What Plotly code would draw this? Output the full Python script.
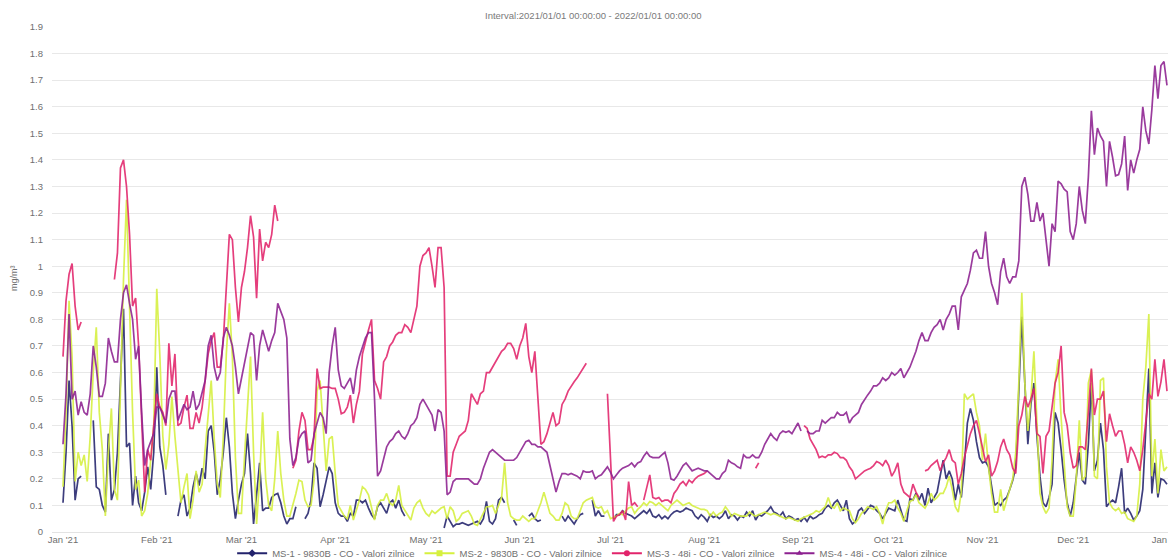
import pandas as pd
import plotly.graph_objects as go

N = None

# Daily CO values (mg/m3), 2021-01-01 .. 2022-01-01, one list per station
dates = pd.date_range("2021-01-01", periods=366, freq="D")

ms1_values = (
    [0.11, 0.30, 0.57, 0.40, 0.12, 0.20, 0.21, N, N, N,
     0.42, 0.17, 0.16, 0.10, 0.075, 0.37, 0.12, 0.16, 0.30, 0.55,
     0.84, 0.32, 0.335, 0.10, 0.21, 0.11, 0.08, 0.15, 0.245, 0.16,
     0.30]
    + [0.62, 0.32, 0.25, 0.14, N, N, N, 0.06, 0.12, 0.14,
       0.06, 0.09, 0.17, 0.22, 0.175, 0.24, 0.20, 0.38, 0.40, 0.30,
       0.14, 0.20, 0.30, 0.43, 0.32, 0.145, 0.05, 0.12]
    + [0.18, 0.22, 0.37, 0.22, 0.03, 0.14, 0.26, 0.08, 0.09, 0.09,
       0.13, 0.14, 0.145, 0.11, 0.06, 0.03, 0.05, 0.05, 0.095, N,
       N, 0.05, 0.07, 0.12, 0.26, 0.24, 0.095, 0.14, 0.20, 0.245,
       0.22]
    + [0.11, 0.07, 0.06, 0.06, 0.04, 0.07, 0.06, 0.12, 0.12, 0.11,
       0.12, 0.09, 0.065, 0.05, 0.095, 0.11, 0.09, 0.07, 0.11, 0.12,
       0.09, 0.12, 0.08, 0.06, N, N, N, N, N, N]
    + [N, N, N, N, N, N, 0.015, 0.06, 0.04, 0.02,
       0.03, 0.03, 0.035, 0.03, 0.025, 0.03, 0.035, 0.04, 0.03, 0.05,
       0.115, 0.04, 0.03, 0.05, 0.12, 0.13, 0.11, N, N, 0.045,
       0.025]
    + [N, N, N, 0.06, 0.07, 0.05, 0.04, 0.045, N, N,
       N, N, N, N, 0.06, 0.04, 0.06, 0.045, 0.03, 0.05,
       0.065, 0.07, N, N, 0.12, 0.06, 0.08, 0.06, 0.06, N]
    + [N, 0.05, 0.065, 0.065, 0.08, 0.07, 0.065, 0.06, 0.05, 0.06,
       0.07, 0.08, 0.07, 0.085, 0.06, 0.055, 0.065, 0.05, 0.06, 0.05,
       0.065, 0.075, 0.08, 0.075, 0.08, 0.09, 0.085, 0.08, 0.06, 0.05,
       0.065]
    + [0.055, 0.04, 0.065, 0.055, 0.06, 0.05, 0.06, 0.08, 0.05, 0.065,
       0.06, 0.045, 0.06, 0.055, 0.075, 0.06, 0.08, 0.045, 0.065, 0.06,
       0.07, 0.08, 0.095, 0.075, 0.07, 0.06, 0.075, 0.05, 0.06, 0.055,
       0.045]
    + [0.05, 0.04, 0.055, 0.04, 0.06, 0.05, 0.055, 0.065, 0.07, 0.09,
       0.10, 0.09, 0.11, 0.12, 0.10, 0.08, 0.12, 0.05, 0.03, 0.04,
       0.08, 0.09, 0.07, 0.085, 0.10, 0.095, 0.08, 0.07, 0.05, 0.07]
    + [0.09, 0.085, 0.08, 0.12, 0.08, 0.045, 0.04, 0.125, 0.12, 0.145,
       0.12, 0.145, 0.10, 0.165, 0.11, 0.13, 0.15, 0.21, 0.27, 0.20,
       0.23, 0.20, 0.12, 0.18, 0.13, 0.25, 0.41, 0.465, 0.42, 0.34,
       0.28]
    + [0.26, 0.265, 0.245, 0.18, 0.10, 0.11, 0.10, 0.12, 0.13, 0.16,
       0.195, 0.245, 0.50, 0.81, 0.56, 0.33, 0.48, 0.56, 0.36, 0.21,
       0.11, 0.095, 0.13, 0.18, 0.45, 0.41, 0.31, 0.195, 0.11, 0.06]
    + [0.11, 0.20, 0.30, 0.195, 0.18, 0.33, 0.56, 0.23, 0.27, 0.41,
       0.31, 0.095, 0.11, 0.12, 0.11, 0.17, 0.24, 0.07, 0.09, 0.07,
       0.045, 0.06, 0.08, 0.16, 0.37, 0.615, 0.145, 0.26, 0.13, 0.20,
       0.195]
    + [0.18]
)

ms2_values = (
    [0.17, 0.45, 0.87, 0.66, 0.19, 0.30, 0.25, 0.29, 0.19, 0.36,
     0.60, 0.77, 0.45, 0.31, 0.06, 0.30, 0.465, 0.16, 0.12, 0.55,
     0.95, 1.25, 0.85, 0.45, 0.16, 0.195, 0.06, 0.08, 0.145, 0.26,
     0.40]
    + [0.915, 0.67, 0.36, 0.235, 0.33, 0.51, 0.36, 0.22, 0.11, 0.17,
       0.22, 0.05, 0.12, 0.23, 0.15, 0.18, 0.31, 0.44, 0.57, 0.35,
       0.18, 0.13, 0.36, 0.67, 0.86, 0.66, 0.28, 0.07]
    + [0.07, 0.28, 0.48, 0.66, 0.30, 0.03, 0.20, 0.45, 0.20, 0.10,
       0.08, 0.20, 0.38, 0.22, 0.12, 0.06, 0.06, 0.10, 0.145, 0.195,
       0.19, 0.12, 0.095, 0.10, 0.195, 0.53, 0.57, 0.40, 0.23, 0.35,
       0.36]
    + [0.22, 0.10, 0.08, 0.06, 0.05, 0.10, 0.045, 0.08, 0.12, 0.17,
       0.16, 0.14, 0.095, 0.045, 0.10, 0.12, 0.12, 0.145, 0.11, 0.10,
       0.12, 0.175, 0.10, 0.08, 0.06, 0.045, 0.09, 0.11, 0.12, 0.09]
    + [0.07, 0.06, 0.08, 0.07, 0.08, 0.09, 0.095, 0.05, 0.095, 0.08,
       0.04, 0.05, 0.07, 0.075, 0.08, 0.06, 0.03, 0.025, 0.05, 0.07,
       0.095, 0.095, 0.10, 0.07, 0.10, 0.13, 0.26, 0.11, 0.06, 0.05,
       0.045]
    + [0.045, 0.06, 0.05, 0.04, 0.05, 0.05, 0.08, 0.11, 0.15, 0.11,
       0.07, 0.06, 0.045, 0.045, 0.07, 0.11, 0.10, 0.06, 0.05, 0.05,
       0.08, 0.11, 0.12, 0.125, 0.13, 0.095, 0.09, 0.095, 0.07, 0.08]
    + [0.05, 0.055, 0.06, 0.07, 0.065, 0.08, 0.09, 0.095, 0.07, 0.085,
       0.095, 0.11, 0.10, 0.115, 0.11, 0.10, 0.11, 0.10, 0.09, 0.08,
       0.10, 0.11, 0.12, 0.11, 0.10, 0.105, 0.11, 0.10, 0.095, 0.09,
       0.085]
    + [0.085, 0.08, 0.06, 0.075, 0.06, 0.07, 0.075, 0.095, 0.08, 0.06,
       0.07, 0.065, 0.06, 0.06, 0.06, 0.075, 0.065, 0.06, 0.065, 0.07,
       0.075, 0.07, 0.065, 0.07, 0.065, 0.06, 0.055, 0.05, 0.055, 0.05,
       0.045]
    + [0.04, 0.05, 0.055, 0.06, 0.065, 0.07, 0.08, 0.075, 0.085, 0.095,
       0.13, 0.095, 0.09, 0.11, 0.08, 0.09, 0.085, 0.08, 0.05, 0.035,
       0.05, 0.07, 0.08, 0.095, 0.09, 0.085, 0.095, 0.07, 0.03, 0.08]
    + [0.11, 0.11, 0.12, 0.09, 0.07, 0.04, 0.08, 0.115, 0.12, 0.14,
       0.11, 0.10, 0.09, 0.11, 0.145, 0.12, 0.13, 0.145, 0.145, 0.17,
       0.21, 0.16, 0.095, 0.075, 0.15, 0.52, 0.50, 0.51, 0.52, 0.45,
       0.40]
    + [0.27, 0.37, 0.245, 0.145, 0.075, 0.075, 0.16, 0.08, 0.12, 0.16,
       0.20, 0.30, 0.56, 0.90, 0.56, 0.38, 0.50, 0.68, 0.40, 0.145,
       0.095, 0.07, 0.09, 0.27, 0.56, 0.65, 0.43, 0.245, 0.095, 0.06]
    + [0.06, 0.20, 0.42, 0.195, 0.21, 0.56, 0.61, 0.21, 0.20, 0.57,
       0.58, 0.245, 0.11, 0.09, 0.08, 0.09, 0.07, 0.075, 0.05, 0.045,
       0.04, 0.06, 0.18, 0.50, 0.62, 0.82, 0.21, 0.35, 0.145, 0.31,
       0.23]
    + [0.245]
)

ms3_values = (
    [0.66, 0.87, 0.97, 1.01, 0.85, 0.76, 0.79, N, N, N,
     N, N, N, N, N, N, N, 0.95, 1.05, 1.37,
     1.40, 1.30, 1.12, 0.85, 0.88, 0.70, 0.40, 0.15, 0.31, 0.27,
     0.40]
    + [0.52, 0.47, 0.45, 0.40, 0.71, 0.55, 0.67, 0.40, 0.41, 0.47,
       0.515, 0.39, 0.39, 0.45, 0.41, 0.47, 0.57, 0.67, 0.72, 0.75,
       0.62, 0.62, 0.72, 0.92, 1.12, 1.10, 0.92, 0.79]
    + [0.92, 0.98, 1.07, 1.19, 1.11, 0.88, 1.14, 1.02, 1.09, 1.07,
       1.12, 1.23, 1.17, N, N, N, N, 0.24, 0.27, 0.38,
       0.45, 0.42, 0.31, 0.31, 0.36, 0.615, 0.54, 0.545, 0.545, 0.545,
       0.54]
    + [0.54, 0.50, 0.445, 0.45, 0.47, 0.515, 0.41, 0.48, 0.53, 0.67,
       0.72, 0.76, 0.80, 0.57, 0.54, 0.50, 0.64, 0.66, 0.70, 0.715,
       0.74, 0.75, 0.75, 0.78, 0.77, 0.75, 0.80, 0.85, 1.00, 1.04]
    + [1.05, 1.07, 1.00, 0.92, 1.07, 1.07, 0.92, 0.21, 0.21, 0.30,
       0.33, 0.36, 0.37, 0.38, 0.42, 0.52, 0.50, 0.48, 0.52, 0.53,
       0.60, 0.60, 0.62, 0.64, 0.66, 0.68, 0.69, 0.71, 0.71, 0.69,
       0.65]
    + [0.70, 0.73, 0.785, 0.66, 0.60, 0.68, 0.50, 0.33, 0.34, 0.37,
       0.41, 0.45, 0.40, 0.41, 0.48, 0.50, 0.53, 0.55, 0.565, 0.58,
       0.60, 0.62, 0.635, N, N, N, N, N, N, 0.52]
    + [0.28, 0.04, 0.06, 0.065, 0.08, 0.045, 0.19, 0.10, 0.11, 0.095,
       N, 0.12, 0.17, 0.215, 0.13, 0.125, 0.13, 0.115, 0.12, 0.12,
       0.11, 0.145, 0.16, 0.18, 0.19, 0.175, 0.195, 0.185, 0.20, 0.21,
       0.215]
    + [0.22, 0.23, N, N, N, N, N, N, N, N,
       N, N, N, N, N, N, N, 0.24, 0.26, N,
       N, N, N, N, N, N, N, N, N, N,
       N]
    + [N, N, 0.40, 0.39, 0.35, 0.33, 0.31, 0.28, 0.285, 0.28,
       0.29, 0.29, 0.30, 0.295, 0.28, 0.28, 0.27, 0.245, 0.23, 0.20,
       0.21, 0.22, 0.23, 0.235, 0.24, 0.25, 0.265, 0.26, 0.25, 0.27]
    + [0.25, 0.21, 0.23, 0.26, 0.18, 0.15, 0.14, 0.13, 0.18, 0.15,
       0.13, N, 0.23, 0.235, 0.25, 0.26, 0.27, 0.23, 0.26, 0.28,
       0.31, 0.27, 0.26, 0.18, 0.22, 0.28, 0.33, 0.37, 0.40, 0.42,
       0.37]
    + [0.31, 0.265, 0.29, 0.21, 0.23, 0.265, 0.32, 0.35, 0.31, 0.29,
       0.24, 0.22, 0.40, 0.44, 0.51, 0.47, 0.50, 0.54, 0.37, 0.36,
       0.22, 0.36, 0.38, 0.48, 0.56, 0.60, 0.70, 0.45, 0.40, 0.30]
    + [0.24, 0.25, 0.32, 0.32, 0.31, 0.45, 0.615, 0.44, 0.50, 0.50,
       0.53, 0.34, 0.445, 0.40, 0.36, 0.38, 0.38, 0.33, 0.26, 0.32,
       0.30, 0.27, 0.23, 0.31, 0.43, 0.52, 0.50, 0.65, 0.51, 0.565,
       0.65]
    + [0.53]
)

ms4_values = (
    [0.33, 0.52, 0.82, 0.50, 0.53, 0.44, 0.49, 0.45, 0.44, 0.52,
     0.70, 0.62, 0.51, 0.51, 0.56, 0.73, 0.68, 0.64, 0.64, 0.80,
     0.90, 0.93, 0.86, 0.80, 0.65, 0.70, 0.45, 0.25, 0.31, 0.34,
     0.37]
    + [0.47, 0.47, 0.44, 0.41, 0.50, 0.53, 0.53, 0.42, 0.45, 0.48,
       0.46, 0.47, 0.53, 0.46, 0.48, 0.52, 0.57, 0.70, 0.74, 0.62,
       0.57, 0.60, 0.73, 0.77, 0.74, 0.70, 0.62, 0.52]
    + [0.58, 0.64, 0.70, 0.75, 0.74, 0.57, 0.70, 0.76, 0.72, 0.68,
       0.72, 0.75, 0.86, 0.83, 0.80, 0.73, 0.35, 0.25, 0.28, 0.35,
       0.37, 0.38, 0.26, 0.27, 0.37, 0.41, 0.45, 0.43, 0.37, 0.60,
       0.70]
    + [0.77, 0.61, 0.55, 0.54, 0.56, 0.58, 0.52, 0.61, 0.66, 0.70,
       0.73, 0.75, 0.75, 0.50, 0.21, 0.23, 0.28, 0.32, 0.34, 0.35,
       0.37, 0.38, 0.36, 0.35, 0.37, 0.40, 0.41, 0.43, 0.48, 0.50]
    + [0.48, 0.46, 0.44, 0.38, 0.46, 0.45, 0.38, 0.14, 0.15, 0.19,
       0.20, 0.20, 0.20, 0.20, 0.20, 0.19, 0.18, 0.18, 0.20, 0.24,
       0.27, 0.30, 0.31, 0.30, 0.29, 0.28, 0.27, 0.27, 0.27, 0.27,
       0.28]
    + [0.30, 0.32, 0.34, 0.345, 0.33, 0.33, 0.32, 0.32, 0.31, 0.30,
       0.25, 0.20, 0.15, 0.19, 0.22, 0.22, 0.215, 0.22, 0.215, 0.21,
       0.20, 0.23, 0.225, 0.225, 0.23, 0.20, 0.21, 0.215, 0.23, 0.245]
    + [0.225, 0.20, 0.215, 0.23, 0.24, 0.245, 0.25, 0.26, 0.245, 0.26,
       0.265, 0.285, 0.30, 0.285, 0.28, 0.28, 0.28, 0.29, 0.30, 0.26,
       0.20, 0.195, 0.21, 0.23, 0.25, 0.26, 0.245, 0.23, 0.235, 0.24,
       0.235]
    + [0.23, 0.23, 0.22, 0.21, 0.20, 0.20, 0.22, 0.23, 0.27, 0.26,
       0.255, 0.245, 0.24, 0.29, 0.28, 0.28, 0.29, 0.28, 0.28, 0.30,
       0.33, 0.35, 0.37, 0.355, 0.345, 0.37, 0.38, 0.375, 0.38, 0.37,
       0.39]
    + [0.41, 0.38, N, 0.38, 0.37, 0.37, 0.38, 0.38, 0.42, 0.41,
       0.42, 0.43, 0.43, 0.45, 0.44, 0.44, 0.45, 0.41, 0.43, 0.44,
       0.45, 0.48, 0.50, 0.515, 0.53, 0.55, 0.55, 0.56, 0.58, 0.57]
    + [0.58, 0.60, 0.59, 0.60, 0.615, 0.58, 0.60, 0.62, 0.65, 0.68,
       0.72, 0.75, 0.72, 0.72, 0.75, 0.77, 0.78, 0.80, 0.76, 0.80,
       0.82, 0.85, 0.85, 0.76, 0.885, 0.91, 0.935, 0.985, 1.05, 1.06,
       1.03]
    + [1.03, 1.13, 1.00, 0.935, 0.90, 0.855, 0.98, 1.03, 0.96, 0.935,
       0.96, 0.96, 1.02, 1.30, 1.335, 1.27, 1.17, 1.17, 1.24, 1.17,
       1.20, 1.11, 1.00, 1.16, 1.13, 1.32, 1.31, 1.29, 1.28, 1.13]
    + [1.10, 1.16, 1.30, 1.21, 1.16, 1.335, 1.585, 1.42, 1.52, 1.49,
       1.47, 1.30, 1.47, 1.41, 1.34, 1.345, 1.385, 1.49, 1.285, 1.40,
       1.35, 1.40, 1.44, 1.60, 1.51, 1.46, 1.59, 1.755, 1.63, 1.755,
       1.77]
    + [1.68]
)

series = [
    ("MS-1 - 9830B - CO - Valori zilnice", ms1_values, "#23236c", "diamond"),
    ("MS-2 - 9830B - CO - Valori zilnice", ms2_values, "#d6f03e", "square"),
    ("MS-3 - 48i - CO - Valori zilnice", ms3_values, "#e2246b", "circle"),
    ("MS-4 - 48i - CO - Valori zilnice", ms4_values, "#8d2190", "triangle-up"),
]

for name, vals, _, _ in series:
    assert len(vals) == len(dates), (name, len(vals))

fig = go.Figure()
for i, (name, vals, color, symbol) in enumerate(series):
    fig.add_trace(go.Scatter(
        x=dates, y=vals, mode="lines", name=name,
        line=dict(color=color, width=1.7),
        opacity=0.88, connectgaps=False,
        legendgroup=f"g{i}", showlegend=False,
    ))
    # legend entry with line + marker symbol
    fig.add_trace(go.Scatter(
        x=[None], y=[None], mode="lines+markers", name=name,
        line=dict(color=color, width=2),
        marker=dict(color=color, symbol=symbol, size=6),
        legendgroup=f"g{i}", showlegend=True,
    ))

font_family = "Liberation Sans, Arial, sans-serif"
text_grey = "#6f6f6f"

fig.update_layout(
    width=1168, height=559,
    margin=dict(l=52, r=0, t=27, b=27, autoexpand=False),
    paper_bgcolor="white", plot_bgcolor="white",
    font=dict(family=font_family, size=9.5, color=text_grey),
    showlegend=True,
    legend=dict(
        orientation="h", xanchor="center", x=0.484,
        yanchor="middle", y=-0.042,
        font=dict(size=9.5, color=text_grey),
        itemwidth=30, bgcolor="rgba(0,0,0,0)",
    ),
    xaxis=dict(
        type="date",
        range=["2020-12-28 08:40", "2022-01-01 08:00"],
        dtick="M1", tick0="2021-01-01",
        tickformat="%b '%y",
        showgrid=False, zeroline=False, showline=False,
        ticks="", ticklabeloverflow="allow", automargin=False,
        tickfont=dict(size=9.5, color=text_grey),
    ),
    yaxis=dict(
        range=[0, 1.9], dtick=0.1, tick0=0,
        showgrid=True, gridcolor="#e8e8e8", gridwidth=1,
        zeroline=True, zerolinecolor="#e3e3e3", zerolinewidth=1,
        showline=False, ticks="", ticklabelstandoff=8, automargin=False,
        tickfont=dict(size=9.5, color=text_grey),
    ),
    annotations=[
        dict(text="Interval:2021/01/01 00:00:00 - 2022/01/01 00:00:00",
             xref="paper", yref="paper", x=0.4848, y=1.022,
             xanchor="center", yanchor="middle", showarrow=False,
             font=dict(size=9.5, color="#7a7a7a")),
        dict(text="mg/m³", xref="paper", yref="paper",
             x=-0.034, y=0.503, textangle=-90,
             xanchor="center", yanchor="middle", showarrow=False,
             font=dict(size=9, color=text_grey)),
    ],
)

fig.write_html("out.html")
